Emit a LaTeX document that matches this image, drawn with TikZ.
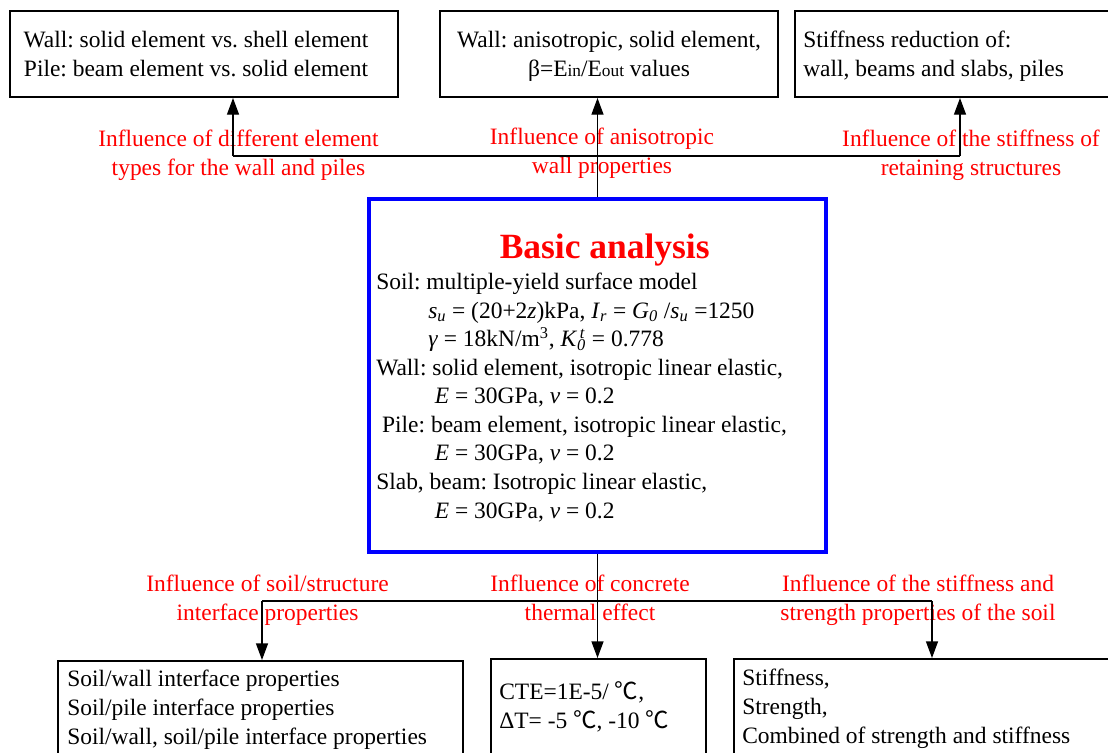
\documentclass[tikz,border=0pt]{standalone}
\usepackage{fontspec}
\setmainfont{Liberation Serif}
\newfontfamily\cjkfont{Noto Sans CJK SC}
\usetikzlibrary{arrows.meta,fit}
\frenchspacing
\newcommand{\degC}{{\cjkfont ℃}}
\newcommand{\mysub}[1]{\textsubscript{\textit{#1}}}
\newcommand{\smallsub}[1]{{\fontsize{13}{13}\selectfont #1}}
\begin{document}
\begin{tikzpicture}[x=0.75pt,y=-0.75pt,
  box/.style={draw, line width=1.5pt, inner sep=0pt},
  bluebox/.style={draw=blue, line width=3pt, inner sep=0pt},
  txt/.style={inner sep=0pt, font=\fontsize{17.6}{21.4}\selectfont\frenchspacing, align=left},
  lbl/.style={txt, text=red, align=center},
  conn/.style={line width=1pt, -{Triangle[length=12.5pt,width=9pt]}},
  hline/.style={line width=0.8pt}]
\useasboundingbox (0,0) rectangle (1108,753);

% boxes
\node[box, fit={(10,11)(398,97)}] (tl) {};
\node[box, fit={(440,11)(778,97)}] (tm) {};
\node[box, fit={(795,11)(1130,97)}] (tr) {};
\node[bluebox, fit={(369,199)(826,552)}] (basic) {};
\node[box, fit={(58,661)(463,790)}] (bl) {};
\node[box, fit={(491,659)(706,790)}] (bm) {};
\node[box, fit={(734,659)(1130,790)}] (br) {};

% top box texts (anchored at the baseline of the last line)
\node[txt, align=center, anchor=base] (tlt) at (196,76) {Wall: solid element vs. shell element\\Pile: beam element vs. solid element};
\node[txt, align=center, anchor=base] (tmt) at (609,76) {Wall: anisotropic, solid element,\\β=E\smallsub{in}/E\smallsub{out} values};
\node[txt, anchor=base west] (trt) at (803,76) {Stiffness reduction of:\\wall, beams and slabs, piles};

% top labels
\node[lbl, anchor=base] (l1) at (238.5,175) {Influence of different element\\types for the wall and piles};
\node[lbl, anchor=base] (l2) at (602,173) {Influence of anisotropic\\wall properties};
\node[lbl, anchor=base] (l3) at (971,175) {Influence of the stiffness of\\retaining structures};

% basic analysis
\node[inner sep=0pt, text=red, font=\fontsize{26.6}{30}\selectfont\bfseries, anchor=base] (title) at (604.7,258) {Basic analysis};
\node[txt, anchor=base west] (body) at (376,518) {Soil: multiple-yield surface model\\
\hspace*{39pt}\textit{s}\mysub{u} = (20+2\textit{z})kPa, \textit{I}\mysub{r} = \textit{G}\mysub{0} /\textit{s}\mysub{u} =1250\\
\hspace*{39pt}\textit{γ} = 18kN/m\textsuperscript{3}, \textit{K}\rlap{\textsuperscript{\,\textit{t}}}\mysub{0} = 0.778\\
Wall: solid element, isotropic linear elastic,\\
\hspace*{44pt}\textit{E} = 30GPa, \textit{ν} = 0.2\\
\hspace*{4.4pt}Pile: beam element, isotropic linear elastic,\\
\hspace*{44pt}\textit{E} = 30GPa, \textit{ν} = 0.2\\
Slab, beam: Isotropic linear elastic,\\
\hspace*{44pt}\textit{E} = 30GPa, \textit{ν} = 0.2};

% bottom labels
\node[lbl, anchor=base] (l4) at (267.5,620) {Influence of soil/structure\\interface properties};
\node[lbl, anchor=base] (l5) at (590,620) {Influence of concrete\\thermal effect};
\node[lbl, anchor=base] (l6) at (918,620) {Influence of the stiffness and\\strength properties of the soil};

% bottom box texts
\node[txt, anchor=base west] (blt) at (67,744) {Soil/wall interface properties\\Soil/pile interface properties\\Soil/wall, soil/pile interface properties};
\node[txt, anchor=base west] (bmt) at (499,728) {CTE=1E-5/ \degC,\\ΔT= -5 \degC, -10 \degC};
\node[txt, anchor=base west] (brt) at (742,743) {Stiffness,\\Strength,\\Combined of strength and stiffness};

% connectors top
\coordinate (tj) at (233,156);
\coordinate (tk) at (960,156);
\draw[hline] (tj) -- (tk);
\draw[conn] (tj) -- (tj |- tl.south);
\draw[conn] (tk) -- (tk |- tr.south);
\draw[conn] (basic.north) -- (basic.north |- tm.south);

% connectors bottom
\coordinate (bj) at (262,601);
\coordinate (bk) at (932,601);
\draw[hline] (bj) -- (bk);
\draw[conn] (bj) -- (bj |- bl.north);
\draw[conn] (bk) -- (bk |- br.north);
\draw[conn] (basic.south) -- (basic.south |- bm.north);
\end{tikzpicture}
\end{document}
